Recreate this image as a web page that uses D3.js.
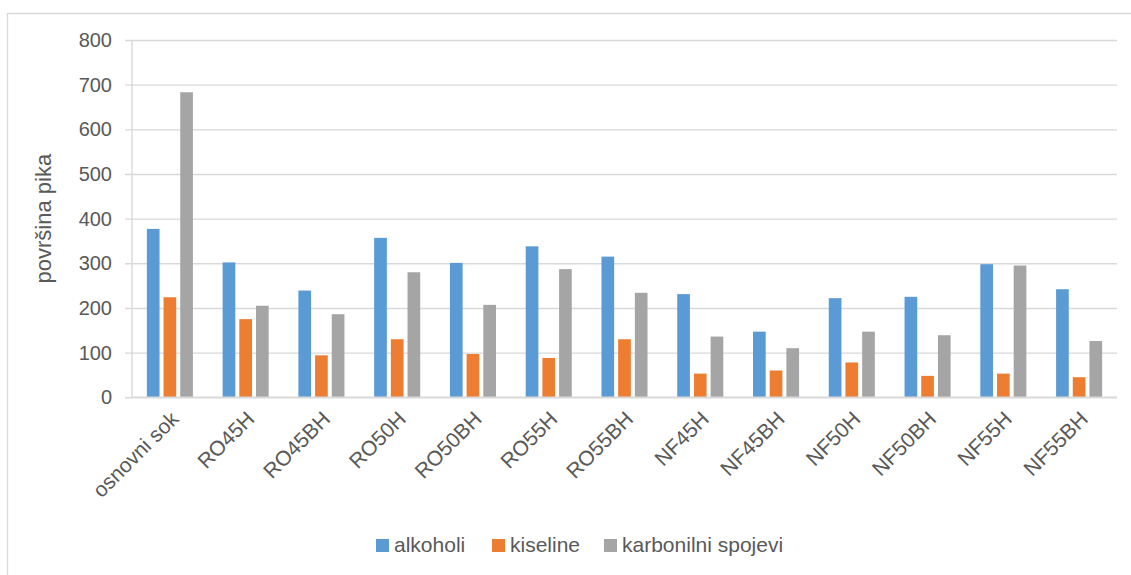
<!DOCTYPE html>
<html>
<head>
<meta charset="utf-8">
<script src="https://cdn.jsdelivr.net/npm/d3@7"></script>
<style>
  body { margin: 0; background: #fff; }
  svg text { font-family: "Liberation Sans", Arial, sans-serif; fill: #595959; }
</style>
</head>
<body>
<svg id="chart" width="1131" height="575"></svg>
<script>
var width = 1131;
var height = 575;

// data
var categories = ["osnovni sok", "RO45H", "RO45BH", "RO50H", "RO50BH", "RO55H", "RO55BH",
                  "NF45H", "NF45BH", "NF50H", "NF50BH", "NF55H", "NF55BH"];
var seriesNames = ["alkoholi", "kiseline", "karbonilni spojevi"];
var alkoholi = [377, 302, 239, 357, 301, 338, 315, 231, 147, 222, 225, 298, 242];
var kiseline = [224, 175, 94, 130, 97, 88, 130, 53, 60, 78, 48, 53, 45];
var karbonilni = [683, 205, 186, 280, 207, 287, 234, 136, 110, 147, 139, 295, 126];
var yTicks = [0, 100, 200, 300, 400, 500, 600, 700, 800];
var colors = ["#5b9bd5", "#ed7d31", "#a5a5a5"];

var seriesValues = [alkoholi, kiseline, karbonilni];
var rows = categories.map((c, i) => ({
    name: c,
    values: seriesNames.map((s, j) => ({ series: s, value: seriesValues[j][i] }))
}));

var plot = { left: 132, right: 1117, top: 40, bottom: 397.3 };
var gridColor = "#d9d9d9";

var svg = d3.select("#chart");

// outer chart border (runs off the right and bottom edges)
svg.append("path")
    .attr("d", `M7.5,${height + 5} L7.5,13.5 L${width + 5},13.5`)
    .attr("fill", "none")
    .attr("stroke", gridColor)
    .attr("stroke-width", 1.3);

var x0 = d3.scaleBand().domain(categories).range([plot.left, plot.right]);
var x1 = d3.scaleBand().domain(seriesNames).range([0, x0.bandwidth()])
    .paddingInner(0.24).paddingOuter(0.89);
var y = d3.scaleLinear().domain([0, 800]).range([plot.bottom, plot.top]);
var color = d3.scaleOrdinal().domain(seriesNames).range(colors);

// gridlines + y labels
var yAxis = d3.axisLeft(y).tickValues(yTicks).tickSize(-(plot.right - plot.left) - 7)
    .tickPadding(13);
var gy = svg.append("g")
    .attr("transform", `translate(${plot.left - 7},0)`)
    .call(yAxis);
gy.select(".domain").remove();
gy.selectAll(".tick line").attr("stroke", gridColor).attr("stroke-width", 1.4);
gy.selectAll(".tick text")
    .attr("font-size", 20)
    .style("font-family", "'Liberation Sans', Arial, sans-serif")
    .attr("fill", "#595959");

// vertical axis line
svg.append("line")
    .attr("x1", plot.left).attr("x2", plot.left)
    .attr("y1", plot.top).attr("y2", plot.bottom)
    .attr("stroke", gridColor).attr("stroke-width", 1.4);

// bars
var groups = svg.selectAll(".group").data(rows).enter()
    .append("g")
    .attr("class", "group")
    .attr("transform", d => `translate(${x0(d.name)},0)`);

groups.selectAll("rect").data(d => d.values).enter()
    .append("rect")
    .attr("x", d => x1(d.series))
    .attr("width", x1.bandwidth())
    .attr("y", d => y(d.value))
    .attr("height", d => y(0) - y(d.value))
    .attr("fill", d => color(d.series));

// x axis baseline
svg.append("line")
    .attr("x1", plot.left).attr("x2", plot.right)
    .attr("y1", plot.bottom).attr("y2", plot.bottom)
    .attr("stroke", gridColor).attr("stroke-width", 1.6);

// category labels, rotated
svg.selectAll(".cat").data(categories).enter()
    .append("text")
    .attr("class", "cat")
    .attr("font-size", 21)
    .attr("text-anchor", "end")
    .attr("transform", d => `translate(${x0(d) + x0.bandwidth() / 2 + 10},${plot.bottom + 23}) rotate(-45)`)
    .text(d => d);

// y axis title
svg.append("text")
    .attr("font-size", 22)
    .attr("text-anchor", "middle")
    .attr("transform", `translate(51,${(plot.top + plot.bottom) / 2}) rotate(-90)`)
    .text("površina pika");

// legend
var legendX = [376, 492, 604];
var legend = svg.selectAll(".legend").data(seriesNames).enter()
    .append("g")
    .attr("class", "legend")
    .attr("transform", (d, i) => `translate(${legendX[i]},539)`);
legend.append("rect")
    .attr("width", 13).attr("height", 13)
    .attr("fill", d => color(d));
legend.append("text")
    .attr("x", 18).attr("y", 13)
    .attr("font-size", 21)
    .text(d => d);
</script>
</body>
</html>
